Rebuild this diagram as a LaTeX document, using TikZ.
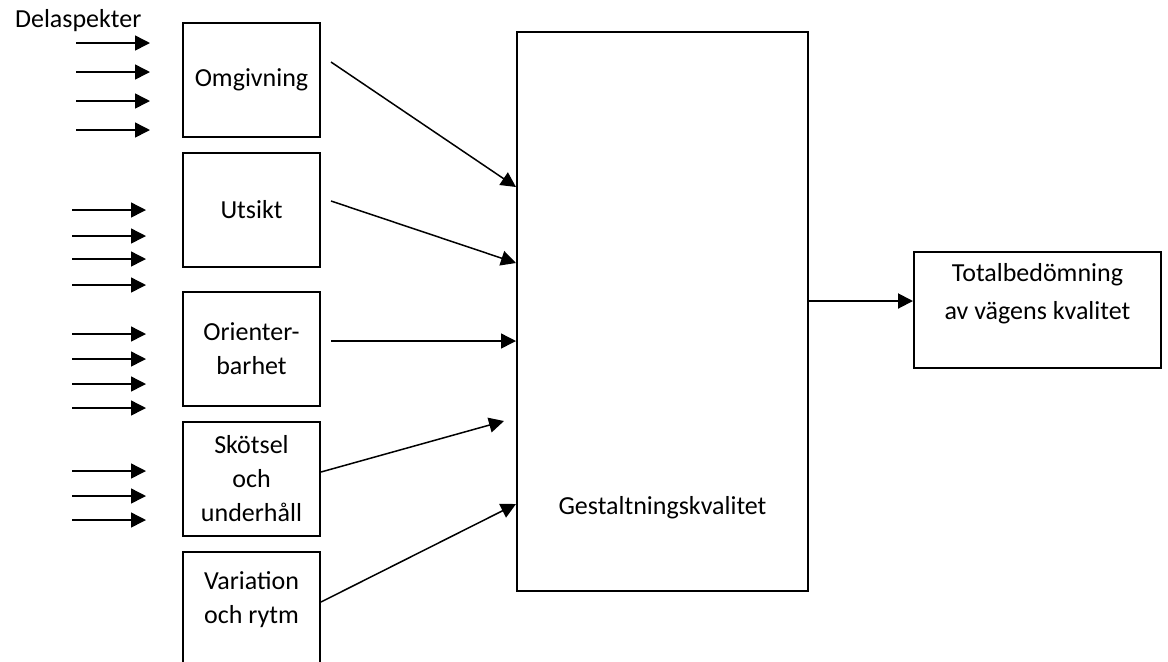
\documentclass[tikz,border=0pt]{standalone}
\usepackage{fontspec}
\setmainfont{Carlito}
\usetikzlibrary{arrows.meta}
\tikzset{
    aspect/.style={draw,line width=1pt,rectangle,inner sep=0pt,
        minimum width=68.5pt,minimum height=57pt},
    label text/.style={align=center,font=\fontsize{13}{17}\selectfont},
    arr/.style={line width=0.75pt,-{Triangle[length=7.5pt,width=7.5pt]}}
}
\begin{document}
\begin{tikzpicture}[x=0.5pt,y=-0.5pt]
        \useasboundingbox (0,0) rectangle (1168,661);
        %% Left column
        \node[label text,anchor=west] (dela) at (8,21) {Delaspekter};
        \node[aspect,label text] (omg) at (251.5,80) {Omgivning};
        \node[aspect,label text] (uts) at (251.5,210) {Utsikt};
        \node[aspect,label text] (ori) at (251.5,349) {Orienter-\\barhet};
        \node[aspect,label text] (sko) at (251.5,479) {Sk\"otsel\\och\\underh\aa ll};
        \node[aspect,minimum height=70pt,anchor=north] (var) at (251.5,551) {};
        \node[label text] (vartxt) at (251.5,600) {Variation\\och rytm};
        %% Middle and right
        \node[aspect,minimum width=145.5pt,minimum height=279.5pt] (gest) at (662.5,311.5) {};
        \node[label text] (gesttxt) at (662.5,508) {Gestaltningskvalitet};
        \node[aspect,minimum width=123.5pt,minimum height=58pt] (tot) at (1037.5,310) {};
        \node[label text,font=\fontsize{13}{19}\selectfont] (tottxt) at (1037.5,294)
            {Totalbed\"omning\\av v\"agens kvalitet};
        %% Delaspekter arrows
        \foreach \y in {43,72,101,130}
            \draw[arr] (76,\y) -- (150,\y);
        \foreach \y in {210,236,259,285,334,359,384,408,471,496,520}
            \draw[arr] (72,\y) -- (146,\y);
        %% Arrows to Gestaltningskvalitet
        \draw[arr] ([xshift=5pt,yshift=9pt]omg.east) -- ([yshift=62.25pt]gest.west);
        \draw[arr] ([xshift=5pt,yshift=4.5pt]uts.east) -- ([yshift=24.25pt]gest.west);
        \draw[arr] ([xshift=5pt,yshift=4pt]ori.east) -- ([yshift=-14.75pt]gest.west);
        \draw[arr] ([yshift=3.5pt]sko.east) -- ([xshift=-6pt,yshift=-54.75pt]gest.west);
        \draw[arr] ([yshift=10pt]var.east) -- ([yshift=-96.25pt]gest.west);
        %% Result
        \draw[arr,line width=1pt] ([yshift=5.25pt]gest.east) -- ([yshift=4.5pt]tot.west);
    \end{tikzpicture}
\end{document}
